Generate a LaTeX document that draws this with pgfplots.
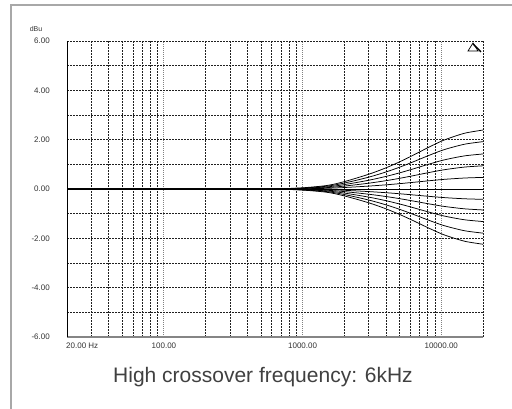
\documentclass[border=0pt]{standalone}
\usepackage{pgfplots}
\pgfplotsset{compat=1.18}
\usepackage{pgfplotstable}
\usepackage{fontspec}
\setmainfont{Liberation Sans}
\definecolor{txt}{HTML}{333333}
\definecolor{ttl}{HTML}{404040}
\definecolor{frm}{HTML}{A8A8A8}
\definecolor{botline}{HTML}{858585}
\definecolor{gridc}{HTML}{202020}

\pgfplotstableread{
f a b c d e z g h i j k
20 0 0 0 0 0 0 0 0 0 0 0
100 0 0 0 0 0 0 0 0 0 0 0
500 0 0 0 0 0 0 0 0 0 0 0
700 0.012 0.010 0.007 0.005 0.002 0 -0.002 -0.004 -0.007 -0.009 -0.011
1000 0.048 0.038 0.028 0.019 0.009 0 -0.008 -0.017 -0.026 -0.036 -0.045
1500 0.143 0.115 0.085 0.056 0.028 0 -0.025 -0.051 -0.079 -0.107 -0.134
2000 0.299 0.240 0.178 0.118 0.059 0 -0.053 -0.106 -0.165 -0.224 -0.280
3000 0.598 0.480 0.355 0.235 0.118 0 -0.105 -0.213 -0.330 -0.448 -0.560
4000 0.860 0.691 0.511 0.338 0.169 0 -0.151 -0.306 -0.475 -0.644 -0.806
5000 1.099 0.883 0.653 0.432 0.216 0 -0.193 -0.391 -0.607 -0.823 -1.030
6000 1.315 1.056 0.781 0.517 0.259 0 -0.231 -0.468 -0.726 -0.985 -1.232
7000 1.506 1.210 0.895 0.592 0.296 0 -0.265 -0.536 -0.832 -1.128 -1.411
8000 1.673 1.344 0.994 0.658 0.329 0 -0.294 -0.595 -0.924 -1.253 -1.568
10000 1.936 1.555 1.150 0.761 0.381 0 -0.340 -0.689 -1.069 -1.450 -1.814
12000 2.103 1.690 1.250 0.827 0.414 0 -0.370 -0.748 -1.162 -1.575 -1.971
15000 2.271 1.824 1.349 0.893 0.447 0 -0.399 -0.808 -1.254 -1.701 -2.128
20000 2.390 1.920 1.420 0.940 0.470 0 -0.420 -0.850 -1.320 -1.790 -2.240
}\eqdata

\begin{document}
\begin{tikzpicture}[x=1pt,y=1pt]
\useasboundingbox (0,0) rectangle (512,409);
\draw[frm, line width=1.5pt] (11,-2) -- (11,404) -- (514,404);
\begin{axis}[
  at={(67pt,72pt)}, anchor=south west,
  scale only axis, width=416pt, height=296pt,
  xmode=log, xmin=20, xmax=20000, ymin=-6, ymax=6,
  axis x line*=bottom, axis y line*=left,
  x axis line style={botline, line width=2pt},
  y axis line style={black, line width=0.8pt},
  xtick={100,1000,10000},
  xticklabels={100.00,1000.00,10000.00},
  minor xtick={30,40,50,60,70,80,90,200,300,400,500,600,700,800,900,2000,3000,4000,5000,6000,7000,8000,9000,20000},
  extra x ticks={20},
  extra x tick labels={20.00 Hz},
  extra x tick style={grid=none, xticklabel style={anchor=north west, xshift=-1pt}},
  ytick={-6,-4,-2,0,2,4,6},
  yticklabels={-6.00,-4.00,-2.00,0.00,2.00,4.00,6.00},
  minor ytick={-5,-3,-1,1,3,5},
  grid=both,
  major y grid style={gridc, dash pattern=on 2pt off 1pt, line width=0.7pt},
  minor y grid style={gridc, dash pattern=on 2pt off 1pt, line width=0.7pt},
  minor x grid style={gridc, dash pattern=on 2pt off 1pt, line width=0.7pt},
  major x grid style={gray, dash pattern=on 1pt off 1pt, line width=1pt},
  major tick length=0pt, minor tick length=0pt,
  xticklabel style={font=\fontsize{8}{9}\selectfont, text=txt, inner sep=0pt, anchor=north, yshift=-6pt},
  yticklabel style={font=\fontsize{8}{9}\selectfont, text=txt, inner sep=0pt, anchor=east, xshift=-17pt},
]
\addplot[black, line width=0.75pt, smooth] table[x=f,y=a] {\eqdata};
\addplot[black, line width=0.75pt, smooth] table[x=f,y=b] {\eqdata};
\addplot[black, line width=0.75pt, smooth] table[x=f,y=c] {\eqdata};
\addplot[black, line width=0.75pt, smooth] table[x=f,y=d] {\eqdata};
\addplot[black, line width=0.75pt, smooth] table[x=f,y=e] {\eqdata};
\addplot[black, line width=0.9pt, smooth] table[x=f,y=z] {\eqdata};
\addplot[black, line width=0.75pt, smooth] table[x=f,y=g] {\eqdata};
\addplot[black, line width=0.75pt, smooth] table[x=f,y=h] {\eqdata};
\addplot[black, line width=0.75pt, smooth] table[x=f,y=i] {\eqdata};
\addplot[black, line width=0.75pt, smooth] table[x=f,y=j] {\eqdata};
\addplot[black, line width=0.75pt, smooth] table[x=f,y=k] {\eqdata};
\end{axis}
\node[font=\fontsize{7}{8}\selectfont, text=txt, inner sep=0pt] at (36,379.5) {dBu};
\node[font=\fontsize{21}{25}\selectfont, text=ttl, anchor=base, inner sep=0pt] at (263,26) {High crossover frequency: 6kHz};
\draw[black, line width=0.7pt] (468,358) -- (473,366) -- (478,358) -- cycle;
\draw[black, line width=1.4pt] (473,365) -- (481,357);
\end{tikzpicture}
\end{document}
